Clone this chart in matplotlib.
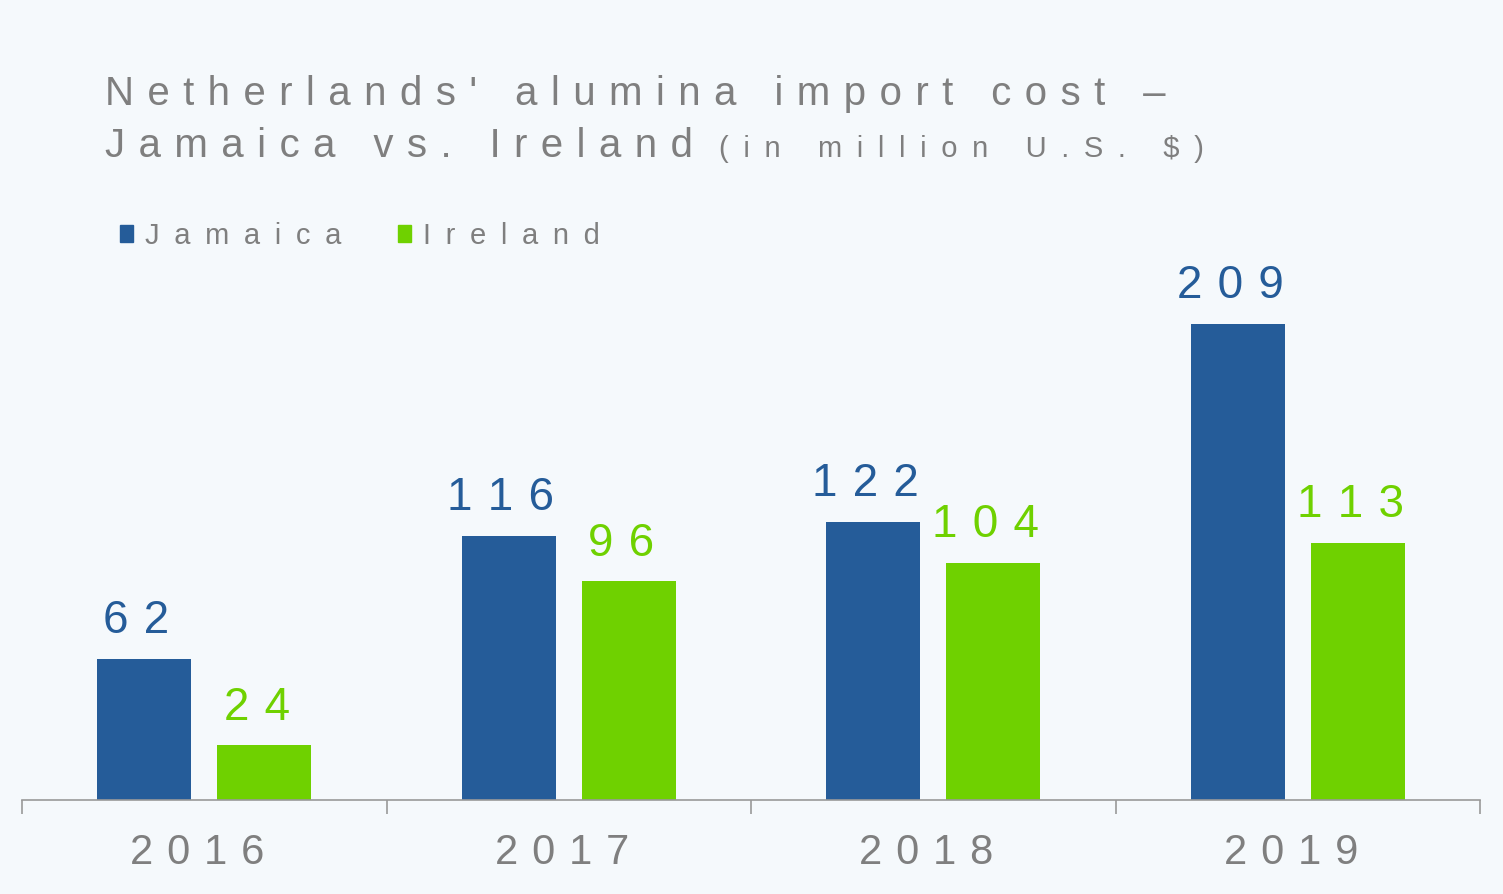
import matplotlib.pyplot as plt
import matplotlib.patches as patches
import numpy as np

years = ['2016', '2017', '2018', '2019']
jamaica = [62, 116, 122, 209]
ireland = [24, 96, 104, 113]

blue = '#255C99'
green = '#6FD100'
grey = '#7F7F7F'
bg = '#F5F9FC'

plt.rcParams['font.family'] = ['Liberation Sans', 'DejaVu Sans']

TRK = '\u2004'   # three-per-em space, used as letter spacing
EN = '\u2002'    # en space, wider tracking for the legend


def spaced(s, gap=TRK, tail=False):
    # fake letter spacing: a gap after every character, a space between words
    out = (gap + ' ' + gap).join(gap.join(w) for w in s.split(' '))
    return out + gap if tail else out


fig = plt.figure(figsize=(15.03, 8.95), dpi=100, facecolor=bg)
W, H = 1503, 895
ax = fig.add_axes([22 / W, (H - 801) / H, 1458 / W, (801 - 260) / H])
ax.set_facecolor(bg)

x = np.arange(len(years))
bw = 0.258
off = 0.165
b1 = ax.bar(x - off, jamaica, bw, color=blue)
b2 = ax.bar(x + off, ireland, bw, color=green)

ax.bar_label(b1, labels=[spaced(str(v), tail=True) for v in jamaica], padding=12,
             fontsize=33, color=blue)
ax.bar_label(b2, labels=[spaced(str(v), tail=True) for v in ireland], padding=12,
             fontsize=33, color=green)

ax.set_xlim(-0.5, len(years) - 0.5)
ax.set_ylim(0, 237.5)
for s in ['top', 'right', 'left']:
    ax.spines[s].set_visible(False)
ax.spines['bottom'].set_color('#999999')
ax.spines['bottom'].set_linewidth(1.2)
ax.set_yticks([])
ax.set_xticks(x)
ax.set_xticklabels([spaced(y, tail=True) for y in years], fontsize=30, color=grey)
ax.tick_params(axis='x', length=0, pad=23)
# boundary ticks between categories
ax.set_xticks(np.arange(-0.5, len(years)), minor=True)
ax.tick_params(axis='x', which='minor', length=10, color='#999999', width=1.2)

# title
fig.text(105 / W, 1 - 105 / H, spaced("Netherlands' alumina import cost –"),
         fontsize=29, color=grey, va='baseline', ha='left')
t2 = fig.text(105 / W, 1 - 157 / H, spaced('Jamaica vs. Ireland'),
              fontsize=29, color=grey, va='baseline', ha='left')
fig.canvas.draw()
bb = t2.get_window_extent()
fig.text((bb.x1 + 26) / W, 1 - 157 / H, spaced('(in million U.S. $)', EN),
         fontsize=21, color=grey, va='baseline', ha='left')

# legend
for xs, lab, c in [(120, 'Jamaica', blue), (398, 'Ireland', green)]:
    fig.patches.append(patches.Rectangle((xs / W, 1 - 243 / H), 13 / W, 17 / H,
                                         transform=fig.transFigure, color=c))
    fig.text((xs + 25) / W, 1 - 244 / H, spaced(lab, EN), fontsize=21, color=grey,
             va='baseline', ha='left')

plt.savefig('out.png', dpi=100, facecolor=bg)
